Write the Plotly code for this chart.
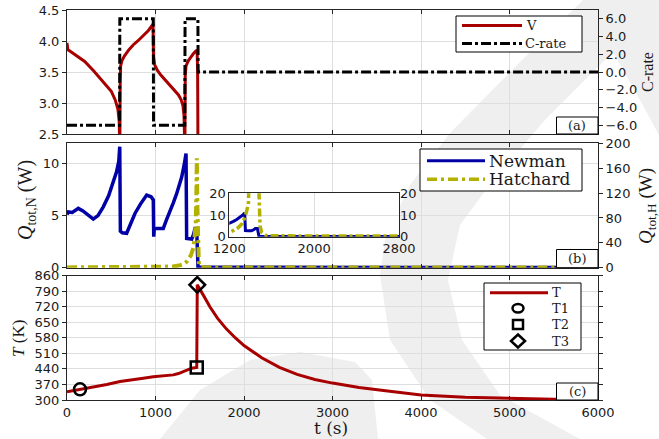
import plotly.graph_objects as go

# ---------------- data ----------------
# (a) cell voltage and applied C-rate
v_time = [0, 10, 40, 100, 200, 300, 373, 450, 500, 545, 575, 590, 597,
          601, 606, 620, 650, 700, 750, 800, 860, 920, 972,
          977, 990, 1020, 1060, 1110, 1160, 1210, 1260, 1290, 1310, 1322, 1327,
          1332, 1336, 1345, 1370, 1400, 1430, 1455, 1470, 1476, 1480]
v_volt = [3.97, 3.86, 3.83, 3.77, 3.67, 3.52, 3.40, 3.29, 3.19, 3.05, 2.90, 2.70, 2.20,
          3.30, 3.60, 3.68, 3.76, 3.86, 3.94, 4.00, 4.08, 4.17, 4.27,
          3.75, 3.62, 3.53, 3.45, 3.37, 3.29, 3.22, 3.13, 3.05, 2.96, 2.80, 2.20,
          2.20, 3.45, 3.60, 3.68, 3.75, 3.80, 3.84, 3.85, 3.50, 2.20]

c_time = [0, 594, 597, 975, 978, 1331, 1334, 1479, 1482, 6000]
c_rate = [-6, -6, 6, 6, -6, -6, 6, 6, 0, 0]

# (b) total heat generation, Newman model (W)
qn_time = [0, 15, 60, 128, 180, 240, 297, 350, 410, 470, 523, 560, 585, 596,
           603, 625, 674, 720, 768, 830, 900, 950, 975, 980, 986, 1013, 1060,
           1088, 1125, 1164, 1200, 1239, 1270, 1296, 1325, 1345, 1352, 1380,
           1409, 1430, 1446, 1465, 1472, 1480, 1500, 2000, 3000, 4000, 5000, 6000]
qn_watt = [5.1, 5.35, 5.3, 5.69, 5.45, 5.0, 4.66, 5.0, 5.84, 6.9, 8.4, 9.2, 10.2, 11.6,
           3.5, 3.35, 3.3, 4.3, 5.2, 6.1, 6.96, 6.8, 6.5, 2.97, 3.7, 3.77, 3.72,
           3.77, 4.6, 5.36, 6.2, 7.1, 7.9, 8.7, 9.9, 10.96, 2.8, 2.75,
           2.75, 3.2, 3.77, 3.77, 2.0, 0.1, 0.05, 0.03, 0.02, 0.02, 0.02, 0.02]

# (b) total heat generation, Hatchard model (W)
qh_time = [0, 500, 1000, 1200, 1280, 1320, 1352, 1380, 1400, 1430, 1445, 1455,
           1462, 1467, 1473, 1480, 1490, 1505, 1550, 2000, 6000]
qh_watt = [0.5, 0.6, 0.8, 1.8, 4.0, 6.0, 9.6, 15.0, 20.0, 33.0, 50.0, 70.0,
           120.0, 176.0, 100.0, 20.0, 5.0, 2.0, 0.5, 0.3, 0.3]

# (c) cell temperature (K)
temp_time = [0, 60, 147, 297, 450, 599, 700, 862, 975, 1100, 1201, 1260, 1314,
             1360, 1409, 1466, 1472, 1550, 1616, 1700, 1800, 1900, 2000, 2200,
             2400, 2600, 2800, 3000, 3300, 3600, 4000, 4500, 5000, 5500, 6000]
temp_k = [337, 341, 348, 360, 370, 383, 388, 398, 405, 409, 413, 419, 428,
          436, 443, 446, 818, 765, 718, 668, 620, 580, 545, 490,
          447, 415, 392, 376, 356, 342, 323, 312, 307, 303, 302]

marker_names = ["T1", "T2", "T3"]
marker_symbols = ["circle-open", "square-open", "diamond-open"]
marker_time = [147, 1466, 1472]

time_ticks = [0, 1000, 2000, 3000, 4000, 5000, 6000]
inset_ticks = [1200, 2000, 2800]

# ---------------- styling ----------------
W, H = 659, 439
RED = "#a80000"
BLUE = "#0000a6"
OLIVE = "#b2b000"
GRID = "#dedede"
AX = "#262626"
TXT = "#1a1a1a"
SANS = "DejaVu Sans"
SERIF = "DejaVu Serif"
TSERIF = "Liberation Serif"
CRATE_DASH = "10px,3px,3px,3px"
HATCH_DASH = "10px,4px,3px,4px"


def px(x):
    return x / W


def py(y):
    return 1 - y / H


XDOM = [px(67), px(598)]
DOM_A = [py(134), py(10)]
DOM_B = [py(267.7), py(143.3)]
DOM_C = [py(400), py(275.5)]
INSET_X = [px(229.3), px(399)]
INSET_Y = [py(236.7), py(193.3)]

tickfont = dict(family=SANS, size=13, color=TXT)

fig = go.Figure()

# panel (a)
fig.add_trace(go.Scatter(x=v_time, y=v_volt, mode="lines", name="V",
                         line=dict(color=RED, width=3), xaxis="x", yaxis="y"))
fig.add_trace(go.Scatter(x=c_time, y=c_rate, mode="lines", name="C-rate",
                         line=dict(color="black", width=3, dash=CRATE_DASH),
                         xaxis="x", yaxis="y2"))

# panel (b)
fig.add_trace(go.Scatter(x=qn_time, y=qn_watt, mode="lines", name="Newman",
                         line=dict(color=BLUE, width=3.5), xaxis="x2", yaxis="y3"))
fig.add_trace(go.Scatter(x=qh_time, y=qh_watt, mode="lines", name="Hatchard",
                         line=dict(color=OLIVE, width=4, dash=HATCH_DASH),
                         xaxis="x2", yaxis="y4"))

# inset of panel (b): both models on a common watt scale
fig.add_trace(go.Scatter(x=qn_time, y=qn_watt, mode="lines", name="Newman",
                         line=dict(color=BLUE, width=3), xaxis="x4", yaxis="y6"))
fig.add_trace(go.Scatter(x=qh_time, y=qh_watt, mode="lines", name="Hatchard",
                         line=dict(color=OLIVE, width=3.5, dash="8px,3px,3px,3px"),
                         xaxis="x4", yaxis="y6"))
fig.add_trace(go.Scatter(x=[], y=[], mode="lines", xaxis="x4", yaxis="y7"))

# panel (c)
fig.add_trace(go.Scatter(x=temp_time, y=temp_k, mode="lines", name="T",
                         line=dict(color=RED, width=3), xaxis="x3", yaxis="y5"))
for name, sym, t in zip(marker_names, marker_symbols, marker_time):
    k = temp_time.index(t)
    fig.add_trace(go.Scatter(x=[temp_time[k]], y=[temp_k[k]], mode="markers", name=name,
                             marker=dict(symbol=sym, size=12, color="black",
                                         line=dict(width=2.5, color="black")),
                             xaxis="x3", yaxis="y5"))

xcommon = dict(domain=XDOM, range=[0, 6000], tickvals=time_ticks, ticks="inside",
               ticklen=4, tickcolor=AX, showline=True, linecolor=AX, linewidth=1,
               mirror="ticks", showgrid=True, gridcolor=GRID, gridwidth=1,
               zeroline=False, tickfont=tickfont, automargin=False)
yleft = dict(ticks="outside", ticklen=4, tickcolor=AX, showline=True, linecolor=AX,
             linewidth=1, mirror=True, showgrid=True, gridcolor=GRID, zeroline=False,
             tickfont=tickfont, automargin=False)
yright = dict(side="right", ticks="outside", ticklen=4, tickcolor=AX, showline=False,
              showgrid=False, zeroline=False, tickfont=tickfont, automargin=False)
inset_ax = dict(showline=True, linecolor=AX, linewidth=1, mirror=True, ticks="",
                showgrid=True, gridcolor=GRID, zeroline=False, tickfont=tickfont,
                automargin=False)

fig.update_layout(
    template="none",
    width=W, height=H, margin=dict(l=0, r=0, t=0, b=0, autoexpand=False),
    paper_bgcolor="white", plot_bgcolor="white", showlegend=False,
    xaxis=dict(xcommon, anchor="y", showticklabels=False),
    yaxis=dict(yleft, domain=DOM_A, anchor="x", range=[2.5, 4.5], dtick=0.5,
               tick0=2.5, tickformat=".1f"),
    yaxis2=dict(yright, overlaying="y", anchor="x", range=[-7, 7],
                tickvals=[-6, -4, -2, 0, 2, 4, 6], tickformat=".1f"),
    xaxis2=dict(xcommon, anchor="y3", showticklabels=False),
    yaxis3=dict(yleft, domain=DOM_B, anchor="x2", range=[0, 11.93], tickvals=[0, 5, 10]),
    yaxis4=dict(yright, overlaying="y3", anchor="x2", range=[0, 200],
                tickvals=[0, 40, 80, 120, 160, 200]),
    xaxis3=dict(xcommon, anchor="y5", showticklabels=True),
    yaxis5=dict(yleft, domain=DOM_C, anchor="x3", range=[300, 860], dtick=70,
                tick0=300, mirror="ticks"),
    xaxis4=dict(inset_ax, domain=INSET_X, anchor="y6", range=[1200, 2800],
                tickvals=inset_ticks),
    yaxis6=dict(inset_ax, domain=INSET_Y, anchor="x4", range=[0, 20],
                tickvals=[0, 10, 20]),
    yaxis7=dict(overlaying="y6", anchor="x4", side="right", range=[0, 20],
                tickvals=[0, 10, 20], ticks="", showgrid=False, zeroline=False,
                tickfont=tickfont, automargin=False),
)


def path_from(points, close=True):
    pts = [f"{px(x):.4f},{py(y):.4f}" for x, y in points]
    return "M" + " L".join(pts) + (" Z" if close else "")


# faint background emblem
crescent = [(583, 0), (520, 62), (450, 133), (410, 185), (386, 235), (380, 275),
            (390, 340), (430, 400), (487, 439), (580, 439), (500, 395), (462, 340),
            (448, 280), (460, 225), (495, 178), (545, 120), (610, 55), (659, 10),
            (659, 0)]
corner_wedge = [(590, 0), (659, 0), (659, 135), (640, 100), (612, 50)]
lower_arc = [(160, 439), (200, 390), (250, 360), (300, 352), (355, 362), (372, 380),
             (378, 439)]
for pts in (crescent, corner_wedge, lower_arc):
    fig.add_shape(type="path", path=path_from(pts), xref="paper", yref="paper",
                  fillcolor="#efefef", line=dict(width=0), layer="below")


def box(x0, y0, x1, y1):
    fig.add_shape(type="rect", xref="paper", yref="paper", x0=px(x0), x1=px(x1),
                  y0=py(y1), y1=py(y0), fillcolor="white",
                  line=dict(color="black", width=1), layer="above")


def key_line(x0, x1, y, color, width, dash="solid"):
    fig.add_shape(type="line", xref="paper", yref="paper", x0=px(x0), x1=px(x1),
                  y0=py(y), y1=py(y), line=dict(color=color, width=width, dash=dash),
                  layer="above")


def label(x, y, text, size, family=SERIF, xanchor="left", angle=0):
    fig.add_annotation(x=px(x), y=py(y), xref="paper", yref="paper", text=text,
                       showarrow=False, xanchor=xanchor, yanchor="middle",
                       textangle=angle, borderpad=0,
                       font=dict(family=family, size=size, color=TXT))


# legend of panel (a)
box(456, 16, 582, 52)
key_line(462, 522, 25.5, RED, 3)
key_line(462, 522, 43.5, "black", 3, CRATE_DASH)
label(525, 25.5, "V", 13)
label(524, 43.5, "C-rate", 13)

# legend of panel (b)
box(420, 149, 582, 191)
key_line(427, 485, 160.7, BLUE, 3)
key_line(427, 485, 179.3, OLIVE, 3.5, HATCH_DASH)
label(488, 160.7, "Newman", 17)
label(488, 179.3, "Hatchard", 17)

# legend of panel (c)
box(484, 283, 581, 350)
key_line(490, 548, 292.7, RED, 3)
label(551, 292.7, "T", 13)
label(551, 308.3, "T1", 13)
label(551, 324.3, "T2", 13)
label(551, 341, "T3", 13)
kx = 518
fig.add_shape(type="circle", xref="paper", yref="paper", x0=px(kx - 5.5), x1=px(kx + 5.5),
              y0=py(312.5), y1=py(304), line=dict(color="black", width=2.5), layer="above")
fig.add_shape(type="rect", xref="paper", yref="paper", x0=px(kx - 5), x1=px(kx + 5),
              y0=py(329), y1=py(320), line=dict(color="black", width=2.5), layer="above")
fig.add_shape(type="path", xref="paper", yref="paper",
              path=path_from([(kx, 334.5), (kx + 7, 341), (kx, 347.5), (kx - 7, 341)]),
              line=dict(color="black", width=2.5), layer="above")

# panel tags
for tag, top, bottom in (("(a)", 117, 134), ("(b)", 249.5, 267.7), ("(c)", 383, 400)):
    box(556.5, top, 598, bottom)
    label(577, (top + bottom) / 2, tag, 13, xanchor="center")

# axis titles
label(647, 72, "C-rate", 16, family=TSERIF, xanchor="center", angle=-90)
label(26, 200, "<i>Q</i><sub>tot,N</sub> (W)", 20, family=TSERIF, xanchor="center", angle=-90)
label(647, 206, "<i>Q</i><sub>tot,H</sub> (W)", 19, family=TSERIF, xanchor="center", angle=-90)
label(18, 339, "<i>T</i> (K)", 17, family=TSERIF, xanchor="center", angle=-90)
label(331, 428, "t (s)", 17, xanchor="center")

fig.write_html("out.html")
